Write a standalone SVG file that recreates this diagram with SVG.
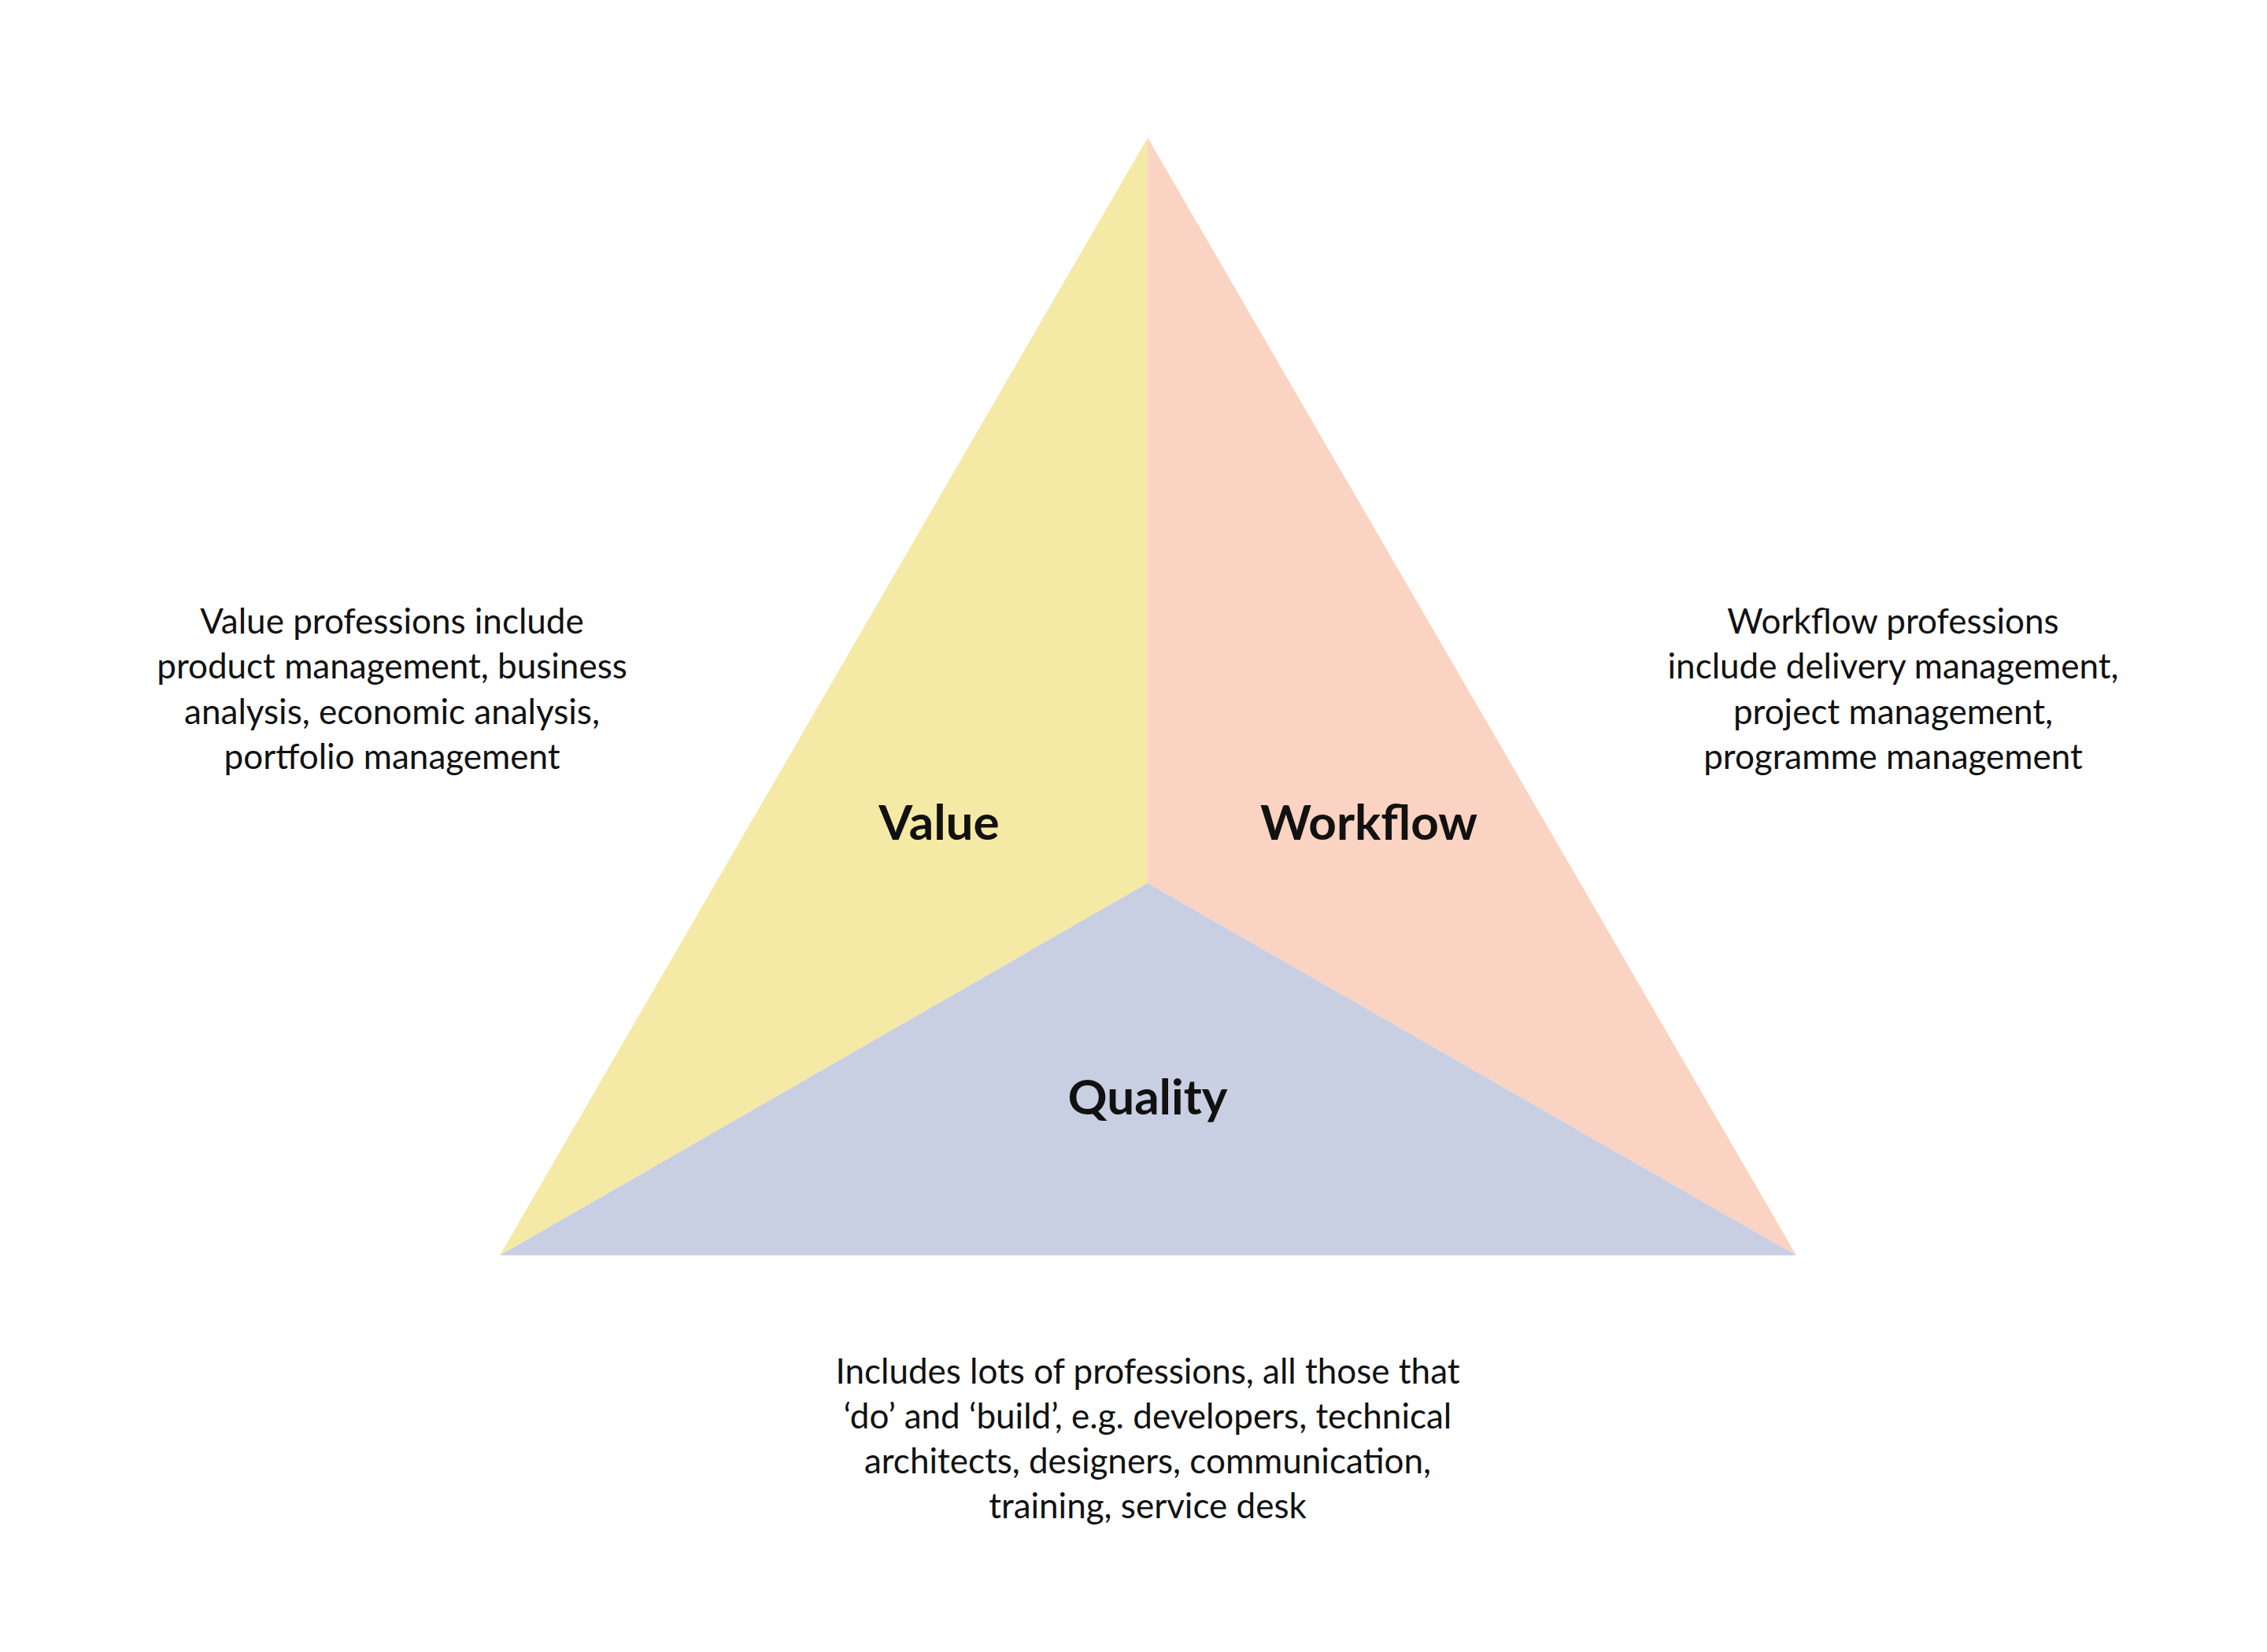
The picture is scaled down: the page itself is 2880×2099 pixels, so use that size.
<svg xmlns="http://www.w3.org/2000/svg" width="2880" height="2099" viewBox="0 0 2880 2099">
<style>
.t{font-family:"Source Sans Pro","Lato","Noto Sans",sans-serif;font-size:44px;fill:#111;text-anchor:middle}
.h{font-family:"Source Sans Pro","Lato","Noto Sans",sans-serif;font-size:62px;font-weight:bold;fill:#111;text-anchor:middle}
</style>
<rect width="2880" height="2099" fill="#fff"/>
<g id="value"><polygon points="1458,175 1458,1122 635,1595" fill="#F5E9A6"/><text class="h" x="1193" y="1067">Value</text></g>
<g id="workflow"><polygon points="1458,175 2282,1595 1458,1122" fill="#FAD3C2"/><text class="h" x="1739" y="1067">Workflow</text></g>
<g id="quality"><polygon points="635,1595 1458,1122 2282,1595" fill="#C9CFE2"/><text class="h" x="1458" y="1416">Quality</text></g>
<g id="value-desc" class="t">
<text class="t" x="498" y="805">Value professions include</text>
<text class="t" x="498" y="862">product management, business</text>
<text class="t" x="498" y="920">analysis, economic analysis,</text>
<text class="t" x="498" y="977">portfolio management</text>
</g>
<g id="workflow-desc">
<text class="t" x="2405" y="805">Workflow professions</text>
<text class="t" x="2405" y="862">include delivery management,</text>
<text class="t" x="2405" y="920">project management,</text>
<text class="t" x="2405" y="977">programme management</text>
</g>
<g id="quality-desc">
<text class="t" x="1458" y="1758">Includes lots of professions, all those that</text>
<text class="t" x="1458" y="1815">‘do’ and ‘build’, e.g. developers, technical</text>
<text class="t" x="1458" y="1872">architects, designers, communication,</text>
<text class="t" x="1458" y="1929">training, service desk</text>
</g>
<g id="connectors"/>
</svg>
